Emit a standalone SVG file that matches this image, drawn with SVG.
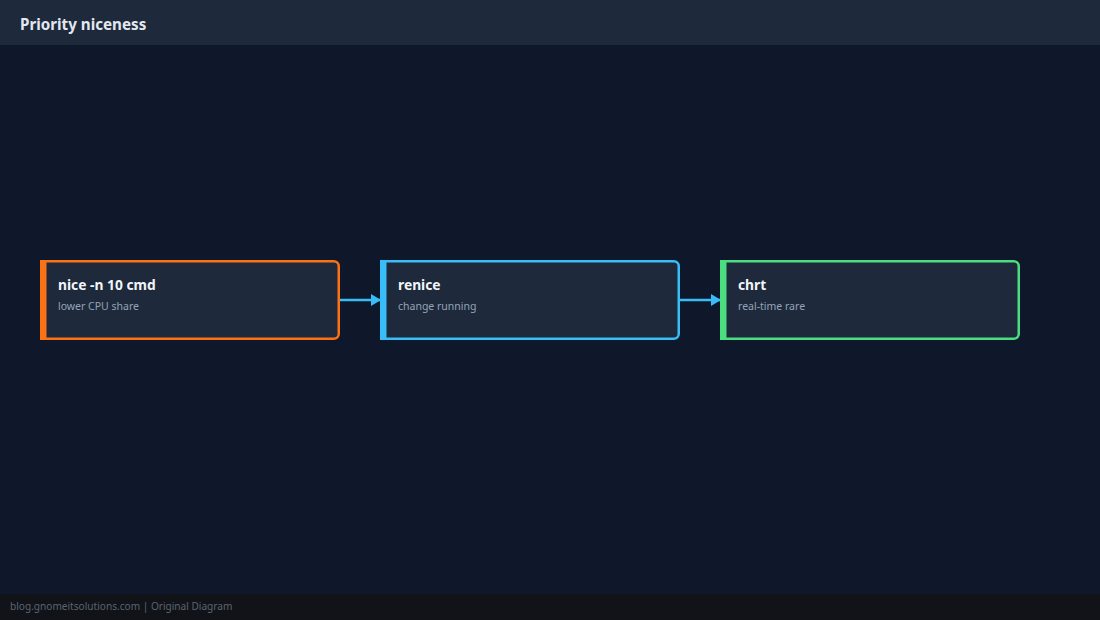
<svg xmlns="http://www.w3.org/2000/svg" width="1100" height="620" viewBox="0 0 1100 620">
<defs>
<style>
.box{fill:#1e293b;stroke-width:2.5}
.t{font-family:"Noto Sans","Open Sans",sans-serif;font-weight:700;font-size:13.8px;fill:#f1f5f9}
.s{font-family:"Noto Sans","Open Sans",sans-serif;font-size:10.5px;fill:#94a3b8}
.edge{stroke:#38bdf8;stroke-width:2.5;fill:none}
</style>
<marker id="ah" markerWidth="10" markerHeight="12" refX="9" refY="6" orient="auto" markerUnits="userSpaceOnUse">
<path d="M0,0 L10,6 L0,12 z" fill="#38bdf8"/>
</marker>
</defs>
<rect width="1100" height="620" fill="#0f172a"/>
<rect width="1100" height="45" fill="#1e293b"/>
<text x="20" y="30" font-family="'Noto Sans','Open Sans',sans-serif" font-weight="700" font-size="15.2" fill="#e2e8f0">Priority niceness</text>
<rect y="594" width="1100" height="26" fill="#111318"/>
<text x="10" y="610" font-family="'Noto Sans','Open Sans',sans-serif" font-size="10.1" fill="#5b6472">blog.gnomeitsolutions.com | Original Diagram</text>
<g id="connectors">
<line class="edge" x1="340" y1="300" x2="380" y2="300" marker-end="url(#ah)"/>
<line class="edge" x1="680" y1="300" x2="720" y2="300" marker-end="url(#ah)"/>
</g>
<g id="node-nice">
<rect class="box" x="41.25" y="261.25" width="297.5" height="77.5" rx="5" stroke="#f97316"/>
<rect x="40" y="260" width="6.5" height="80" fill="#f97316"/>
<text class="t" x="58" y="290">nice -n 10 cmd</text>
<text class="s" x="58" y="310">lower CPU share</text>
</g>
<g id="node-renice">
<rect class="box" x="381.25" y="261.25" width="297.5" height="77.5" rx="5" stroke="#38bdf8"/>
<rect x="380" y="260" width="6.5" height="80" fill="#38bdf8"/>
<text class="t" x="398" y="290">renice</text>
<text class="s" x="398" y="310">change running</text>
</g>
<g id="node-chrt">
<rect class="box" x="721.25" y="261.25" width="297.5" height="77.5" rx="5" stroke="#4ade80"/>
<rect x="720" y="260" width="6.5" height="80" fill="#4ade80"/>
<text class="t" x="738" y="290">chrt</text>
<text class="s" x="738" y="310">real-time rare</text>
</g>
</svg>
